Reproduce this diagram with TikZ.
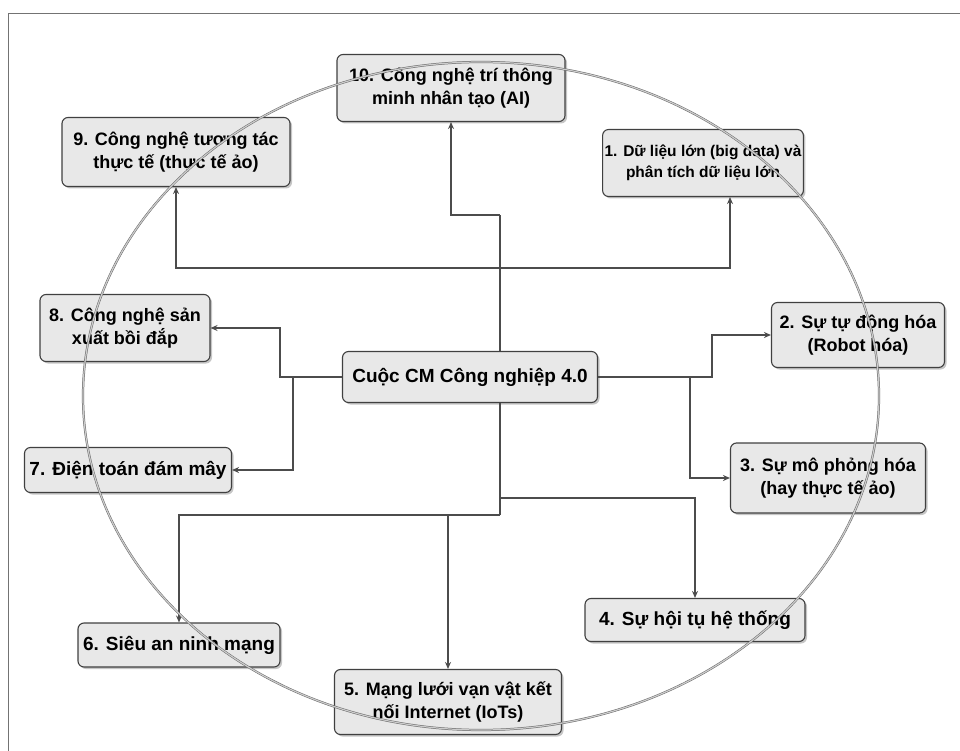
\documentclass[tikz,border=0pt]{standalone}
\usepackage{fontspec}
\setmainfont{Liberation Sans}
\usetikzlibrary{shadows,arrows.meta}

\tikzset{
  topic/.style={draw=black!75, line width=1.1pt, rounded corners=6pt,
    fill=black!9, align=center, font=\bfseries\fontsize{18}{22.5}\selectfont,
    inner sep=2pt, drop shadow={opacity=0.45, shadow xshift=2pt, shadow yshift=-2pt}},
  onerow/.style={topic, font=\bfseries\fontsize{19}{22}\selectfont},
  hubbox/.style={topic, font=\bfseries\fontsize{19}{22}\selectfont},
  link/.style={draw=black!70, line width=1.1pt, -{Stealth[length=7pt,width=6pt]}},
  trunk/.style={draw=black!70, line width=1.1pt}
}

\begin{document}
\begin{tikzpicture}[x=1pt,y=-1pt]
\useasboundingbox (0,0) rectangle (960,751);

  %% frame
  \draw[black!55, line width=1pt] (8,751) -- (8,14) -- (960,14);

  %% topics
  \node[hubbox, minimum width=255pt, minimum height=51pt] (hub) at (470,377) {Cuộc CM Công nghiệp 4.0};
  \node[topic, minimum width=228pt, minimum height=67pt] (b10) at (451,88) {10. Công nghệ trí thông\\minh nhân tạo (AI)};
  \node[topic, minimum width=228pt, minimum height=69pt] (b9) at (176,152) {9. Công nghệ tương tác\\thực tế (thực tế ảo)};
  \node[topic, minimum width=192pt, minimum height=67pt, font=\bfseries\fontsize{15.5}{21}\selectfont] (b1) at (703,163) {1. Dữ liệu lớn (big data) và\\phân tích dữ liệu lớn};
  \node[topic, minimum width=170pt, minimum height=67pt] (b8) at (125,328) {8. Công nghệ sản\\xuất bồi đắp};
  \node[topic, minimum width=173pt, minimum height=65pt] (b2) at (858,335) {2. Sự tự động hóa\\(Robot hóa)};
  \node[onerow, minimum width=207pt, minimum height=45pt] (b7) at (128,470) {7. Điện toán đám mây};
  \node[topic, minimum width=195pt, minimum height=70pt] (b3) at (828,478) {3. Sự mô phỏng hóa\\(hay thực tế ảo)};
  \node[onerow, minimum width=202pt, minimum height=44pt] (b6) at (179,645) {6. Siêu an ninh mạng};
  \node[onerow, minimum width=220pt, minimum height=43pt] (b4) at (695,620) {4. Sự hội tụ hệ thống};
  \node[topic, minimum width=227pt, minimum height=65pt] (b5) at (448,702) {5. Mạng lưới vạn vật kết\\nối Internet (IoTs)};

  %% junctions
  \coordinate (jtop) at (500,215);
  \coordinate (jmid) at (500,268);
  \coordinate (jl8) at (280,377);
  \coordinate (jl7) at (293,377);
  \coordinate (jr2) at (712,377);
  \coordinate (jr3) at (690,377);
  \coordinate (jb4) at (500,498);
  \coordinate (jb6) at (500,515);

  %% upper branches
  \draw[trunk] ([xshift=30pt]hub.north) -- (jtop);
  \draw[link] (jtop) -| (b10.south);
  \draw[link] (jmid) -| (b9.south);
  \draw[link] (jmid) -| ([xshift=27pt]b1.south);

  %% side branches
  \draw[link] (hub.west) -- (jl8) |- (b8.east);
  \draw[link] (jl7) |- (b7.east);
  \draw[link] (hub.east) -- (jr2) |- (b2.west);
  \draw[link] (jr3) |- (b3.west);

  %% lower branches
  \draw[trunk] ([xshift=30pt]hub.south) -- (jb6);
  \draw[link] (jb4) -| (b4.north);
  \draw[link] (jb6) -| (b6.north);
  \draw[link] (jb6 -| b5.north) -- (b5.north);

  %% ring
  \draw[black!60, line width=0.5pt, double=black!20, double distance=1.2pt]
    (481,396) ellipse [x radius=398, y radius=334];

\end{tikzpicture}
\end{document}
